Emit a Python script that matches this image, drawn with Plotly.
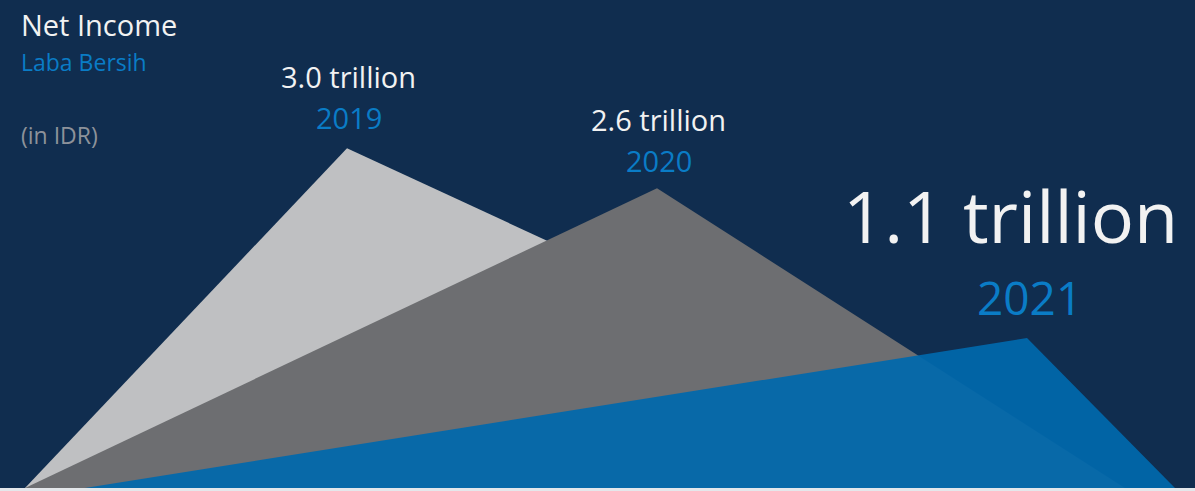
import plotly.graph_objects as go

# Net income by year (IDR trillion)
years = ["2019", "2020", "2021"]
net_income = [3.0, 2.6, 1.1]
value_labels = ["3.0 trillion", "2.6 trillion", "1.1 trillion"]

# Value at which every triangle's base sits on the hidden y axis
BASELINE = -0.403
Y_TOP = 4.485

# Horizontal geometry of each peak (left foot, apex, right foot) on a 0..1195 axis
PEAK_GEOMETRY = {
    "2019": (25, 347, 1082),
    "2020": (25, 657, 1125),
    "2021": (85, 1027, 1175),
}
FILLS = {
    "2019": "#bfc0c2",
    "2020": "#6d6e71",
    "2021": "rgba(0,104,172,0.93)",
}
NAVY = "#102d4f"
WHITE = "#f2f2f2"
BLUE_TEXT = "#0a7cc6"
GREY_TEXT = "#8d929a"
FONT = "Open Sans"

# Label sizes and pixel offsets (centre of each text relative to the apex)
LABEL_STYLE = {
    "2019": dict(value_size=29, year_size=29, value_dy=72, year_dy=31, value_dx=1, year_dx=2),
    "2020": dict(value_size=29, year_size=29, value_dy=69, year_dy=28, value_dx=1, year_dx=2),
    "2021": dict(value_size=72, year_size=46, value_dy=123, year_dy=41, value_dx=-17, year_dx=2),
}

fig = go.Figure()

for year, value in zip(years, net_income):
    left, apex, right = PEAK_GEOMETRY[year]
    fig.add_trace(go.Scatter(
        x=[left, apex, right, left],
        y=[BASELINE, value, BASELINE, BASELINE],
        mode="lines",
        fill="toself",
        fillcolor=FILLS[year],
        line=dict(width=0, color=FILLS[year]),
        hoverinfo="skip",
        showlegend=False,
    ))

annotations = []
for year, value, label in zip(years, net_income, value_labels):
    _, apex, _ = PEAK_GEOMETRY[year]
    st = LABEL_STYLE[year]
    annotations.append(dict(
        x=apex, y=value, xref="x", yref="y", text=label, showarrow=False,
        xanchor="center", yanchor="middle", xshift=st["value_dx"], yshift=st["value_dy"],
        font=dict(family=FONT, size=st["value_size"], color=WHITE),
    ))
    annotations.append(dict(
        x=apex, y=value, xref="x", yref="y", text=year, showarrow=False,
        xanchor="center", yanchor="middle", xshift=st["year_dx"], yshift=st["year_dy"],
        font=dict(family=FONT, size=st["year_size"], color=BLUE_TEXT),
    ))

# Title block
TITLE_X = 19 / 1195
annotations += [
    dict(x=TITLE_X, y=1 - 24.7 / 488, xref="paper", yref="paper", text="Net Income",
         showarrow=False, xanchor="left", yanchor="middle",
         font=dict(family=FONT, size=29, color=WHITE)),
    dict(x=TITLE_X, y=1 - 61.6 / 488, xref="paper", yref="paper", text="Laba Bersih",
         showarrow=False, xanchor="left", yanchor="middle",
         font=dict(family=FONT, size=23, color=BLUE_TEXT)),
    dict(x=TITLE_X, y=1 - 135.4 / 488, xref="paper", yref="paper", text="(in IDR)",
         showarrow=False, xanchor="left", yanchor="middle",
         font=dict(family=FONT, size=23, color=GREY_TEXT)),
]

fig.update_layout(
    width=1195,
    height=491,
    margin=dict(l=0, r=0, t=0, b=3, pad=0),
    paper_bgcolor="#e4e7eb",
    plot_bgcolor=NAVY,
    xaxis=dict(range=[0, 1195], visible=False, fixedrange=True),
    yaxis=dict(range=[BASELINE, Y_TOP], visible=False, fixedrange=True),
    annotations=annotations,
    showlegend=False,
)

fig.write_html("out.html", config={"displayModeBar": False})
